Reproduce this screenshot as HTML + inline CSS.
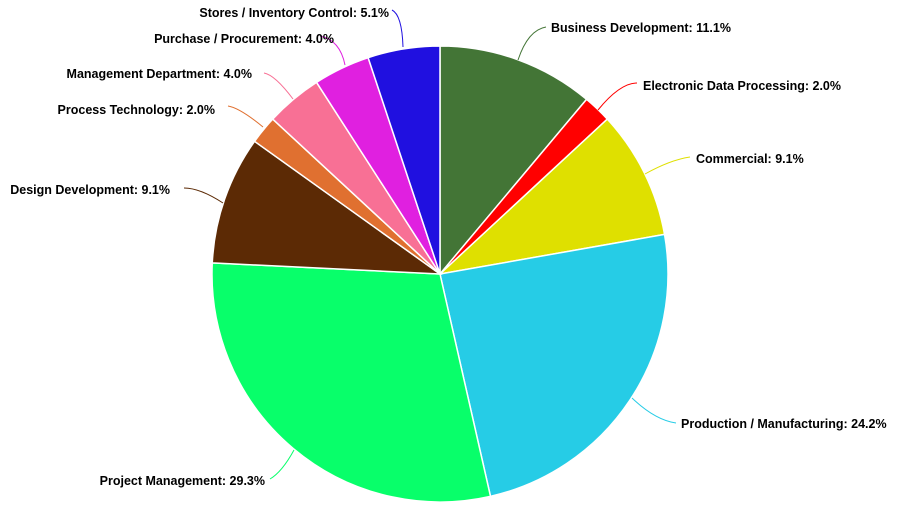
<!DOCTYPE html>
<html><head><meta charset="utf-8"><style>
html,body{margin:0;padding:0;background:#fff;width:902px;height:507px;overflow:hidden}
text{font-family:"Liberation Sans",Arial,sans-serif;font-size:12.5px;font-weight:bold;fill:#000}
</style></head><body>
<svg id="s" width="902" height="507" xmlns="http://www.w3.org/2000/svg"></svg>
<script>
var d=[[11.1,"#437536"],[2.0,"#ff0000"],[9.1,"#dfe000"],[24.2,"#26cce6"],[29.3,"#08ff6a"],[9.1,"#5c2a05"],[2.0,"#e07030"],[4.0,"#f87095"],[4.0,"#e020e0"],[5.1,"#2010e0"]];
var cx=440,cy=274,r=228,tot=99.9,a=0,h="";
d.forEach(function(x){var a1=a+x[0]/tot*2*Math.PI;
var x0=cx+r*Math.sin(a),y0=cy-r*Math.cos(a),x1=cx+r*Math.sin(a1),y1=cy-r*Math.cos(a1);
h+='<path d="M'+cx+','+cy+'L'+x0+','+y0+'A'+r+','+r+' 0 '+(a1-a>Math.PI?1:0)+' 1 '+x1+','+y1+'Z" fill="'+x[1]+'" stroke="#fff" stroke-width="1.5"/>';a=a1;});
var L=[
["Business Development: 11.1%",551,32,"start","#437536","M518,60 Q528,30 546,27"],
["Electronic Data Processing: 2.0%",643,90,"start","#ff0000","M598,110 Q620,83 637,83"],
["Commercial: 9.1%",696,163,"start","#dfe000","M645,174 Q670,160 690,157"],
["Production / Manufacturing: 24.2%",681,428,"start","#26cce6","M632,398 Q655,420 676,423"],
["Project Management: 29.3%",265,485,"end","#08ff6a","M294,450 Q282,472 270,479"],
["Design Development: 9.1%",170,194,"end","#5c2a05","M223,203 Q200,188 184,188"],
["Process Technology: 2.0%",215,114,"end","#e07030","M263,127 Q240,108 228,106"],
["Management Department: 4.0%",252,78,"end","#f87095","M293,99 Q275,75 264,73"],
["Purchase / Procurement: 4.0%",334,43,"end","#e020e0","M345,65 Q340,40 320,36"],
["Stores / Inventory Control: 5.1%",389,17,"end","#2010e0","M403,47 Q402,15 392,10"]];
L.forEach(function(l){h+='<path d="'+l[5]+'" fill="none" stroke="'+l[4]+'" stroke-width="1"/><text x="'+l[1]+'" y="'+l[2]+'" text-anchor="'+l[3]+'">'+l[0]+'</text>';});
document.getElementById("s").innerHTML=h;
</script>
</body></html>
